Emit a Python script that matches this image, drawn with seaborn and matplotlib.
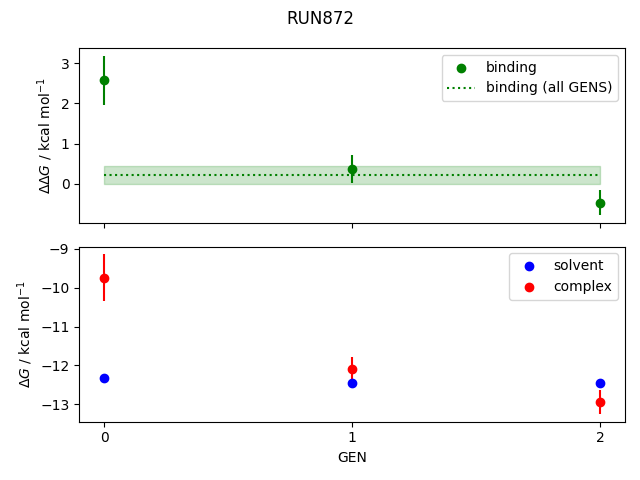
import numpy as np
import pandas as pd
import matplotlib
matplotlib.use("Agg")
import matplotlib.pyplot as plt
import seaborn as sns

gens = [0, 1, 2]

binding = [2.57, 0.37, -0.47]
binding_err = [0.61, 0.34, 0.31]
binding_all = 0.22
binding_all_err = 0.23

solvent = [-12.31, -12.46, -12.44]
solvent_err = [0.02, 0.02, 0.02]
complex_ = [-9.75, -12.10, -12.93]
complex_err = [0.60, 0.32, 0.31]

fig, axes = plt.subplots(2, 1, sharex=True, figsize=(6.4, 4.8), dpi=100)
fig.suptitle("RUN872")

# top: binding free energy per GEN
ax = axes[0]
df = pd.DataFrame({"GEN": gens, "value": binding})
sns.scatterplot(data=df, x="GEN", y="value", ax=ax, color="green", s=36,
                edgecolor="green", linewidth=1, label="binding", zorder=3)
ax.errorbar(gens, binding, yerr=binding_err, color="green", linestyle="none")
ax.hlines(binding_all, gens[0], gens[-1], color="green", linestyle=":",
          label="binding (all GENS)")
ax.fill_between([gens[0], gens[-1]], binding_all - binding_all_err,
                binding_all + binding_all_err, color="green", alpha=0.2)
ax.set_ylabel(r"$\Delta\Delta G$ / kcal mol$^{-1}$")
ax.set_xlabel("")
ax.legend()

# bottom: solvent and complex
ax = axes[1]
for vals, errs, col, lab in [(solvent, solvent_err, "blue", "solvent"),
                             (complex_, complex_err, "red", "complex")]:
    d = pd.DataFrame({"GEN": gens, "value": vals})
    sns.scatterplot(data=d, x="GEN", y="value", ax=ax, color=col, s=36,
                    edgecolor=col, linewidth=1, label=lab, zorder=3)
    ax.errorbar(gens, vals, yerr=errs, color=col, linestyle="none")
ax.set_ylabel(r"$\Delta G$ / kcal mol$^{-1}$")
ax.set_xlabel("GEN")
ax.set_xticks(gens)
ax.legend()

fig.tight_layout()
fig.savefig("out.png")
